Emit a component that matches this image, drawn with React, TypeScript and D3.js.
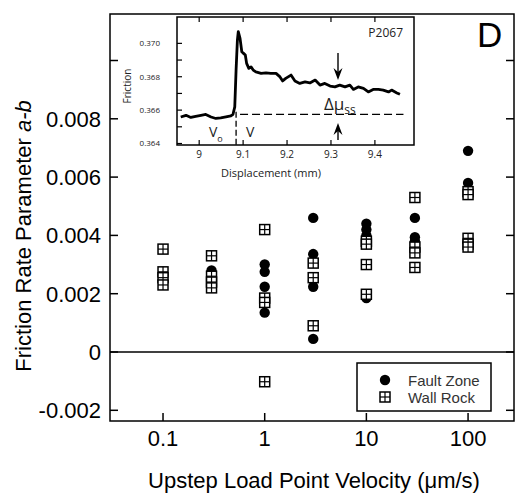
import React from "react";
import * as d3 from "d3";

// ---- Main panel data ----
const velocityTicks = [0.1, 1, 10, 100];
const velocityTickLabels = ["0.1", "1", "10", "100"];
const abTicks = [-0.002, 0, 0.002, 0.004, 0.006, 0.008, 0.01];
const abTickLabels = ["-0.002", "0", "0.002", "0.004", "0.006", "0.008", ""];

const faultZone: [number, number][] = [
  [0.1, 0.00254],
  [0.3, 0.0028],
  [1, 0.003], [1, 0.00275], [1, 0.00224], [1, 0.00135],
  [3, 0.0046], [3, 0.00336], [3, 0.00224], [3, 0.00045],
  [10, 0.0044], [10, 0.0042], [10, 0.004], [10, 0.00185],
  [30, 0.0046], [30, 0.00394], [30, 0.0038],
  [100, 0.0069], [100, 0.0058],
];

const wallRock: [number, number][] = [
  [0.1, 0.00353], [0.1, 0.00275], [0.1, 0.00255], [0.1, 0.0023],
  [0.3, 0.0033], [0.3, 0.0026], [0.3, 0.0024], [0.3, 0.0022],
  [1, 0.0042], [1, 0.00185], [1, 0.0017], [1, -0.00102],
  [3, 0.00305], [3, 0.00255], [3, 0.0009],
  [10, 0.0038], [10, 0.0037], [10, 0.003], [10, 0.00198],
  [30, 0.0053], [30, 0.0036], [30, 0.0034], [30, 0.0029],
  [100, 0.0055], [100, 0.0054], [100, 0.0039], [100, 0.0037], [100, 0.0036],
];

// ---- Inset data ----
const dispTicks = [9, 9.1, 9.2, 9.3, 9.4];
const dispTickLabels = ["9", "9.1", "9.2", "9.3", "9.4"];
const fricTicks = [0.364, 0.365, 0.366, 0.367, 0.368, 0.369, 0.37];
const fricTickLabels = ["0.364", "", "0.366", "", "0.368", "", "0.370"];

const displacement = [
  8.958, 8.97, 8.981, 8.992, 9.004, 9.015, 9.027, 9.038, 9.049, 9.061, 9.072, 9.077,
  9.081, 9.084, 9.087, 9.089, 9.093, 9.097, 9.101, 9.105, 9.108, 9.113, 9.118, 9.123,
  9.129, 9.141, 9.152, 9.163, 9.175, 9.184, 9.19, 9.197, 9.209, 9.218, 9.229, 9.241,
  9.252, 9.264, 9.275, 9.286, 9.298, 9.309, 9.32, 9.332, 9.343, 9.351, 9.362, 9.374,
  9.385, 9.396, 9.408, 9.419, 9.431, 9.438, 9.45, 9.457,
];
const friction = [
  0.36559, 0.36569, 0.36556, 0.36563, 0.36569, 0.36574, 0.36559, 0.3655, 0.36553, 0.36559, 0.36565, 0.36575,
  0.36619, 0.3684, 0.3702, 0.3707, 0.3703, 0.3695, 0.3694, 0.3693, 0.3688, 0.3685, 0.36859, 0.3684,
  0.36829, 0.3682, 0.36823, 0.3682, 0.3682, 0.36799, 0.36775, 0.3679, 0.3681, 0.36775, 0.3676, 0.36769,
  0.36763, 0.3678, 0.3675, 0.3676, 0.36744, 0.36739, 0.3675, 0.36739, 0.3675, 0.36724, 0.36739, 0.3673,
  0.36709, 0.36724, 0.36724, 0.3672, 0.36709, 0.3672, 0.36703, 0.36695,
];

const stepDisp = 9.084;
const steadyFriction = 0.36575;
const dashStartDisp = 9.093;
const dashEndDisp = 9.465;
const arrowDisp = 9.316;
const arrowDownTip = 0.3678;
const arrowUpTip = 0.36523;

const MAIN = "'Liberation Sans', Arial, sans-serif";
const INSET = "'Open Sans', 'Noto Sans', sans-serif";

function SquareMarker({ x, y }: { x: number; y: number }) {
  const s = 10;
  return (
    <g transform={`translate(${x},${y})`}>
      <rect x={-s / 2} y={-s / 2} width={s} height={s} fill="#fff" stroke="#000" strokeWidth={1.5} />
      <line x1={0} x2={0} y1={-s / 2} y2={s / 2} stroke="#000" strokeWidth={1.2} />
      <line x1={-s / 2} x2={s / 2} y1={0} y2={0} stroke="#000" strokeWidth={1.2} />
    </g>
  );
}

export default function App() {
  const W = 515;
  const H = 493;
  const x = d3.scaleLog().domain([0.0301, 283]).range([110, 514]);
  const y = d3.scaleLinear().domain([-0.002367, 0.011595]).range([421, 14]);

  const ix = d3.scaleLinear().domain([8.9495, 9.489]).range([177, 414]);
  const iy = d3.scaleLinear().domain([0.36391, 0.37158]).range([145, 17]);

  const linePath = d3
    .line<number>()
    .x((_, i) => ix(displacement[i]))
    .y((d) => iy(d))(friction);

  const ax = ix(arrowDisp);

  return (
    <svg width={W} height={H} style={{ position: "absolute", left: 0, top: 0, background: "#fff" }}>
      {/* main frame */}
      <rect x={110} y={14} width={404} height={407} fill="none" stroke="#000" strokeWidth={1.5} />
      <line x1={110} x2={514} y1={y(0)} y2={y(0)} stroke="#000" strokeWidth={1.5} />

      {/* y ticks */}
      {abTicks.map((t, i) => (
        <g key={"yt" + i}>
          <line x1={110} x2={118} y1={y(t)} y2={y(t)} stroke="#000" strokeWidth={1.5} />
          <line x1={506} x2={514} y1={y(t)} y2={y(t)} stroke="#000" strokeWidth={1.5} />
          <text x={101} y={y(t)} dy="0.36em" textAnchor="end" fontFamily={MAIN} fontSize={22}>
            {abTickLabels[i]}
          </text>
        </g>
      ))}

      {/* x ticks */}
      {velocityTicks.map((t, i) => (
        <g key={"xt" + i}>
          <line x1={x(t)} x2={x(t)} y1={413} y2={421} stroke="#000" strokeWidth={1.5} />
          <text x={x(t)} y={446} textAnchor="middle" fontFamily={MAIN} fontSize={22}>
            {velocityTickLabels[i]}
          </text>
        </g>
      ))}

      {/* axis titles */}
      <text x={314} y={488} textAnchor="middle" fontFamily={MAIN} fontSize={22}>
        Upstep Load Point Velocity (μm/s)
      </text>
      <text
        transform={`translate(31,236) rotate(-90)`}
        textAnchor="middle"
        fontFamily={MAIN}
        fontSize={22}
      >
        Friction Rate Parameter <tspan fontStyle="italic">a-b</tspan>
      </text>

      {/* data */}
      {faultZone.map((d, i) => (
        <circle key={"fz" + i} cx={x(d[0])} cy={y(d[1])} r={5.2} fill="#000" />
      ))}
      {wallRock.map((d, i) => (
        <SquareMarker key={"wr" + i} x={x(d[0])} y={y(d[1])} />
      ))}

      {/* legend */}
      <rect x={357} y={363} width={134} height={48} fill="#fff" stroke="#000" strokeWidth={1.5} />
      <circle cx={385} cy={380} r={5.2} fill="#000" />
      <SquareMarker x={385} y={397} />
      <text x={408} y={385.5} fontFamily={MAIN} fontSize={15} fill="#333">Fault Zone</text>
      <text x={408} y={402.5} fontFamily={MAIN} fontSize={15} fill="#333">Wall Rock</text>

      {/* panel letter */}
      <text x={477} y={47} fontFamily={MAIN} fontSize={35}>D</text>

      {/* inset */}
      <rect x={177} y={17} width={237} height={128} fill="#fff" stroke="#000" strokeWidth={1.5} />
      {dispTicks.map((t, i) => (
        <g key={"it" + i}>
          <line x1={ix(t)} x2={ix(t)} y1={17} y2={22} stroke="#000" strokeWidth={1.2} />
          <line x1={ix(t)} x2={ix(t)} y1={140} y2={145} stroke="#000" strokeWidth={1.2} />
          <text x={ix(t)} y={158} textAnchor="middle" fontFamily={INSET} fontSize={10} fill="#222">
            {dispTickLabels[i]}
          </text>
        </g>
      ))}
      {fricTicks.map((t, i) => (
        <g key={"ift" + i}>
          <line x1={177} x2={182} y1={iy(t)} y2={iy(t)} stroke="#000" strokeWidth={1.2} />
          <text x={160} y={iy(t)} dy="0.35em" textAnchor="end" fontFamily={INSET} fontSize={8} fill="#222">
            {fricTickLabels[i]}
          </text>
        </g>
      ))}
      <text x={271} y={177} textAnchor="middle" fontFamily={INSET} fontSize={11} fill="#222">
        Displacement (mm)
      </text>
      <text transform="translate(131,86) rotate(-90)" textAnchor="middle" fontFamily={INSET} fontSize={10} fill="#222">
        Friction
      </text>
      <text x={403} y={37} textAnchor="end" fontFamily={INSET} fontSize={12} fill="#222">P2067</text>

      <line x1={ix(stepDisp)} x2={ix(stepDisp)} y1={iy(0.3659)} y2={145} stroke="#000" strokeWidth={1.3} strokeDasharray="6,3" />
      <line
        x1={ix(dashStartDisp)}
        x2={ix(dashEndDisp)}
        y1={iy(steadyFriction)}
        y2={iy(steadyFriction)}
        stroke="#000"
        strokeWidth={1.3}
        strokeDasharray="8,4"
      />
      <path d={linePath || ""} fill="none" stroke="#000" strokeWidth={2.8} strokeLinejoin="round" />

      {/* arrows */}
      <line x1={ax} x2={ax} y1={iy(arrowDownTip) - 27} y2={iy(arrowDownTip) - 3} stroke="#000" strokeWidth={1.4} />
      <path d={`M${ax - 4.5},${iy(arrowDownTip) - 12} L${ax},${iy(arrowDownTip)} L${ax + 4.5},${iy(arrowDownTip) - 12} L${ax},${iy(arrowDownTip) - 8} Z`} fill="#000" />
      <line x1={ax} x2={ax} y1={iy(arrowUpTip) + 3} y2={iy(arrowUpTip) + 17} stroke="#000" strokeWidth={1.4} />
      <path d={`M${ax - 4.5},${iy(arrowUpTip) + 12} L${ax},${iy(arrowUpTip)} L${ax + 4.5},${iy(arrowUpTip) + 12} L${ax},${iy(arrowUpTip) + 8} Z`} fill="#000" />

      <text x={324} y={110} fontFamily={INSET} fontSize={17} fill="#222">
        Δμ<tspan fontSize={12} dy={4}>ss</tspan>
      </text>
      <text x={209} y={137} fontFamily={INSET} fontSize={14} fill="#222">
        V<tspan fontSize={9} dy={5}>o</tspan>
      </text>
      <text x={246} y={137} fontFamily={INSET} fontSize={14} fill="#222">V</text>
    </svg>
  );
}
